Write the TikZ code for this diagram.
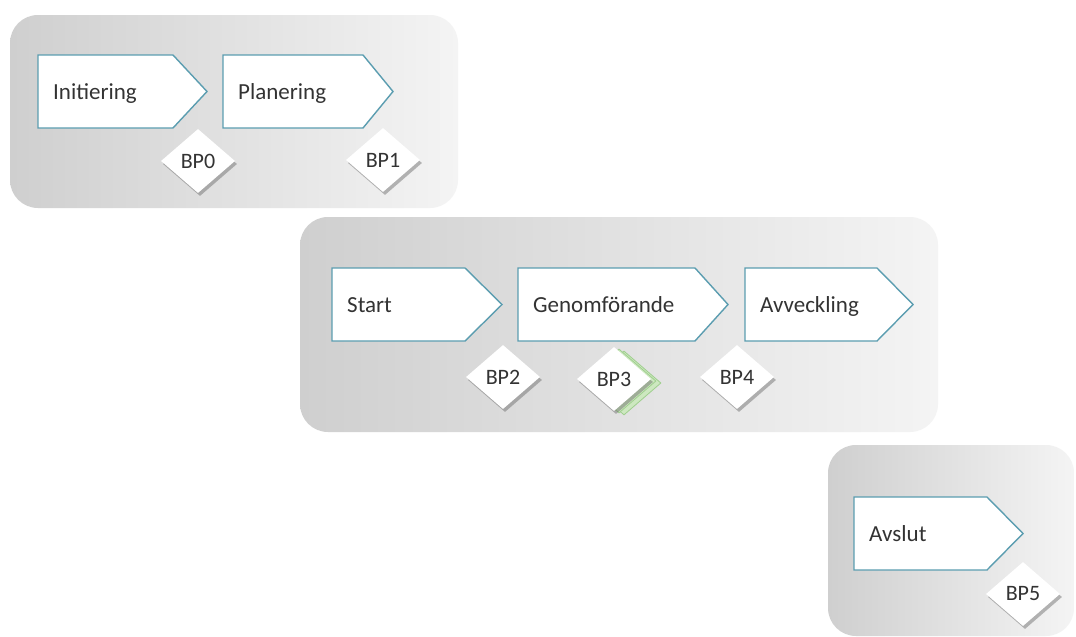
\documentclass[tikz,border=0pt]{standalone}
\usepackage{fontspec}
\setmainfont{Carlito}
\usetikzlibrary{shapes.geometric,shadows}
\definecolor{edgeblue}{HTML}{5B9DB0}
\definecolor{txtgray}{HTML}{333333}
\definecolor{panelL}{HTML}{CFCFCF}
\definecolor{panelR}{HTML}{F4F4F4}
\definecolor{greenfill}{HTML}{CDE8C0}
\definecolor{greenedge}{HTML}{9FCF8E}
\newcommand\phasebox[7]{%
  \draw[phase] (#2,#3) -- (#4,#3) -- (#5,{(#3+#6)/2}) -- (#4,#6) -- (#2,#6) -- cycle;
  \node[phasetext] (#1) at ({#2+15},{(#3+#6)/2+8}) {#7};}
\begin{document}
\begin{tikzpicture}[x=1pt,y=-1pt,
  panel/.style={left color=panelL,right color=panelR,rounded corners=28pt},
  phase/.style={draw=edgeblue,line width=1.4pt,fill=white,line join=miter},
  phasetext/.style={anchor=base west,inner sep=0pt,text=txtgray,font=\fontsize{23}{26}\selectfont},
  bp/.style={diamond,fill=white,minimum width=74pt,minimum height=64pt,inner sep=0pt,
    text=txtgray,font=\fontsize{22}{24}\selectfont,
    drop shadow={shadow xshift=2pt,shadow yshift=-3pt,opacity=.45,fill=black!60}},
  bpgreen/.style={diamond,fill=greenfill,draw=greenedge,line width=0.8pt,minimum width=74pt,minimum height=64pt,inner sep=0pt}]
\useasboundingbox (0,0) rectangle (1076,637);
\fill[white] (0,0) rectangle (1076,637);
% panels
\path[panel] (10,15) rectangle (458,208);
\path[panel] (300,217) rectangle (938,432);
\path[panel] (828,445) rectangle (1074,636);
% phases
\phasebox{ini}{38}{55}{173}{207}{128}{Initiering}
\phasebox{pla}{223}{55}{363}{393}{128}{Planering}
\phasebox{sta}{332}{268}{465}{502}{341}{Start}
\phasebox{gen}{518}{268}{695}{728}{341}{Genomförande}
\phasebox{avv}{745}{268}{877}{913}{341}{Avveckling}
\phasebox{avs}{854}{497}{987}{1023}{570}{Avslut}
% decision points
\node[bp] (bp0) at (198,161) {BP0};
\node[bp] (bp1) at (383,160) {BP1};
\node[bp] (bp2) at (503,377) {BP2};
\node[bpgreen] (bp3b) at (624,383) {};
\node[bpgreen] (bp3a) at (619,381) {};
\node[bp] (bp3) at (614,379) {BP3};
\node[bp] (bp4) at (737,377) {BP4};
\node[bp] (bp5) at (1023,594) {BP5};
\end{tikzpicture}
\end{document}
